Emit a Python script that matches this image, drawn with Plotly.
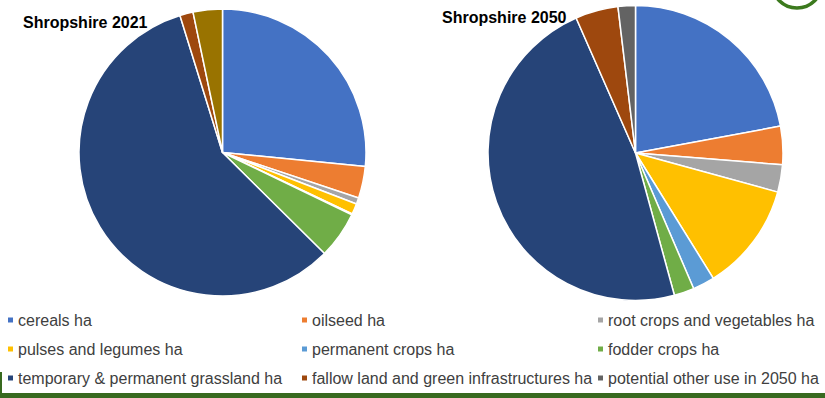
import plotly.graph_objects as go

W, H = 825, 398

categories = [
    "cereals ha", "oilseed ha", "root crops and vegetables ha",
    "pulses and legumes ha", "permanent crops ha", "fodder crops ha",
    "temporary & permanent grassland ha", "fallow land and green infrastructures ha",
    "potential other use in 2050 ha",
]
values_2021 = [26.6, 3.6, 0.7, 1.2, 0.1, 5.3, 57.9, 1.5, 3.3]
values_2050 = [22.1, 4.2, 3.0, 11.9, 2.4, 2.2, 47.7, 4.7, 1.9]

colors_2050 = ["#4472C4", "#ED7D31", "#A5A5A5", "#FFC000", "#5B9BD5",
               "#70AD47", "#264478", "#9E480E", "#636363"]
colors_2021 = colors_2050[:8] + ["#997300"]

titles = ["Shropshire 2021", "Shropshire 2050"]


def px_x(x):
    return x / W


def px_y(y):
    return 1 - y / H


fig = go.Figure()

# left pie: centre (222.5,152.5), r 143.5 ; right pie: centre (635.5,153), r 147.5
fig.add_trace(go.Pie(
    labels=categories, values=values_2021, sort=False, direction="clockwise",
    rotation=0, textinfo="none", showlegend=False, name="2021",
    marker=dict(colors=colors_2021, line=dict(color="white", width=1.5)),
    domain=dict(x=[px_x(79), px_x(366)], y=[px_y(296), px_y(9)]),
))
fig.add_trace(go.Pie(
    labels=categories, values=values_2050, sort=False, direction="clockwise",
    rotation=0, textinfo="none", showlegend=False, name="2050",
    marker=dict(colors=colors_2050, line=dict(color="white", width=1.5)),
    domain=dict(x=[px_x(488), px_x(783)], y=[px_y(300.5), px_y(5.5)]),
))

annotations = []
shapes = []

# titles
for t, (tx, ty) in zip(titles, [(21, 22), (440, 17)]):
    annotations.append(dict(
        text=f"<b>{t}</b>", x=px_x(tx), y=px_y(ty), xref="paper", yref="paper",
        xanchor="left", yanchor="middle", showarrow=False,
        font=dict(family="Liberation Sans, Arial", size=16, color="#000000"),
    ))

# manual legend, 3 columns x 3 rows
col_x = [8, 302, 598]
row_y = [320, 349, 378]
for i, (lab, col) in enumerate(zip(categories, colors_2050)):
    r, c = divmod(i, 3)
    mx, my = col_x[c], row_y[r]
    shapes.append(dict(
        type="rect", xref="paper", yref="paper",
        x0=px_x(mx), x1=px_x(mx + 5), y0=px_y(my + 2.5), y1=px_y(my - 2.5),
        fillcolor=col, line=dict(width=0),
    ))
    annotations.append(dict(
        text=lab, x=px_x(mx + 8), y=px_y(my), xref="paper", yref="paper",
        xanchor="left", yanchor="middle", showarrow=False,
        font=dict(family="Liberation Sans, Arial", size=16, color="#404040"),
    ))

# bottom green bar and left edge strip
shapes.append(dict(type="rect", xref="paper", yref="paper",
                   x0=0, x1=1, y0=0, y1=px_y(393),
                   fillcolor="#386A1F", line=dict(width=0)))
shapes.append(dict(type="rect", xref="paper", yref="paper",
                   x0=0, x1=px_x(2), y0=0, y1=px_y(372),
                   fillcolor="#386A1F", line=dict(width=0)))
# green ring top right (partially visible)
shapes.append(dict(type="circle", xref="paper", yref="paper",
                   x0=px_x(772), x1=px_x(822), y0=px_y(8), y1=px_y(-42),
                   line=dict(color="#3C7A1E", width=3.5)))

fig.update_layout(
    width=W, height=H, margin=dict(l=0, r=0, t=0, b=0),
    paper_bgcolor="white", plot_bgcolor="white",
    annotations=annotations, shapes=shapes, showlegend=False,
)

fig.write_html("out.html")
